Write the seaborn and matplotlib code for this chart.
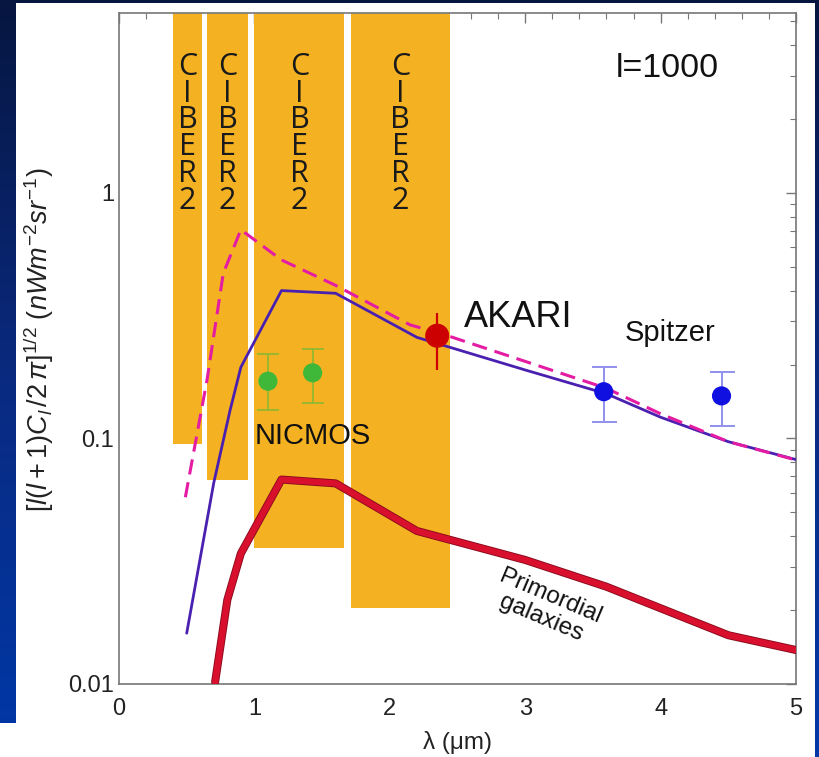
import numpy as np
import matplotlib
matplotlib.use("Agg")
import matplotlib.pyplot as plt
import seaborn as sns
from matplotlib.patches import Rectangle
from matplotlib.ticker import MultipleLocator, LogLocator, NullFormatter, FixedLocator, FixedFormatter

# CIBER2 bands: left edge, width, lower level (they run to the top of the frame)
band_left = [0.40, 0.65, 1.00, 1.71]
band_width = [0.21, 0.305, 0.665, 0.735]
band_low = [0.095, 0.068, 0.0357, 0.0203]

# total model (solid purple)
tot_x = [0.5, 0.7, 0.82, 0.9, 1.2, 1.6, 2.2, 3.0, 3.6, 4.0, 4.5, 5.0]
tot_y = [0.0161, 0.066, 0.13, 0.195, 0.40, 0.39, 0.258, 0.19, 0.152, 0.122, 0.097, 0.082]

# alternative model (dashed magenta)
alt_x = [0.49, 0.65, 0.77, 0.9, 1.2, 1.6, 2.15, 2.4, 3.6, 4.0, 4.5, 5.0]
alt_y = [0.0576, 0.173, 0.47, 0.708, 0.533, 0.42, 0.29, 0.265, 0.16, 0.126, 0.097, 0.0817]

# primordial galaxies (thick red)
prim_x = [0.71, 0.8, 0.9, 1.2, 1.6, 2.2, 3.0, 3.6, 4.5, 5.0]
prim_y = [0.0102, 0.022, 0.034, 0.068, 0.0656, 0.042, 0.032, 0.0249, 0.0158, 0.01375]

# measurements
nic_x = [1.10, 1.43]
nic_y = [0.171, 0.185]
nic_lo = [0.131, 0.139]
nic_hi = [0.221, 0.232]

akari_x = [2.35]
akari_y = [0.262]
akari_lo = [0.190]
akari_hi = [0.324]

spz_x = [3.58, 4.45]
spz_y = [0.155, 0.149]
spz_lo = [0.117, 0.112]
spz_hi = [0.196, 0.187]

sns.set_theme(style="white")
plt.rcParams['font.family'] = ['Liberation Sans', 'DejaVu Sans']
plt.rcParams['mathtext.fontset'] = 'custom'
plt.rcParams['mathtext.rm'] = 'Liberation Sans'
plt.rcParams['mathtext.it'] = 'Liberation Sans:italic'

fig = plt.figure(figsize=(8.19, 7.57), dpi=100)

# slide background: blue gradient with the white figure card on top
bg = fig.add_axes([0, 0, 1, 1], zorder=0)
grad = np.linspace(0, 1, 256).reshape(-1, 1)
cmap = matplotlib.colors.LinearSegmentedColormap.from_list("slide", ["#061640", "#0a2a80", "#0038a8"])
bg.imshow(grad, aspect='auto', cmap=cmap, extent=[0, 1, 0, 1], origin='upper')
bg.add_patch(Rectangle((16/819, 0), (815-16)/819, 1 - 3/757, color='white', lw=0))
bg.add_patch(Rectangle((0, 0), 815/819, (757-723)/757, color='white', lw=0))
bg.set_xlim(0, 1)
bg.set_ylim(0, 1)
bg.axis('off')

ax = fig.add_axes([119/819, 1 - 684/757, (796-119)/819, (684-13)/757], zorder=1)
ax.set_facecolor('white')
ax.set_yscale('log')
ymin, ymax = 0.01, 5.4
ax.set_xlim(0, 5)
ax.set_ylim(ymin, ymax)

orange = '#f4b223'
ax.bar(band_left, [ymax - b for b in band_low], bottom=band_low, width=band_width,
       align='edge', color=orange, lw=0, zorder=1)
for l, w in zip(band_left, band_width):
    ax.text(l + w/2, 3.75, "\n".join("CIBER2"), ha='center', va='top', fontsize=22,
            family='Open Sans', color='#1a1a1a', linespacing=0.86, zorder=2)

sns.lineplot(x=prim_x, y=prim_y, ax=ax, color='#8a0a1c', lw=5.8, zorder=3)
sns.lineplot(x=prim_x, y=prim_y, ax=ax, color='#d8102e', lw=4.5, zorder=3)
sns.lineplot(x=tot_x, y=tot_y, ax=ax, color='#4a20b0', lw=2.0, zorder=4)
sns.lineplot(x=alt_x, y=alt_y, ax=ax, color='#e41ca4', lw=2.2, zorder=5)
ax.lines[-1].set_linestyle((0, (5, 2.6)))

def errs(y, lo, hi):
    return [np.array(y) - np.array(lo), np.array(hi) - np.array(y)]

ax.errorbar(nic_x, nic_y, yerr=errs(nic_y, nic_lo, nic_hi), fmt='none', ecolor='#8ab832',
            elinewidth=1.2, capsize=8, capthick=1.2, zorder=6)
sns.scatterplot(x=nic_x, y=nic_y, ax=ax, color='#3fb83a', s=190, edgecolor='none', zorder=7)

ax.errorbar(akari_x, akari_y, yerr=errs(akari_y, akari_lo, akari_hi), fmt='none', ecolor='#d00000',
            elinewidth=1.6, capsize=0, zorder=6)
sns.scatterplot(x=akari_x, y=akari_y, ax=ax, color='#cc0000', s=300, edgecolor='none', zorder=7)

ax.errorbar(spz_x, spz_y, yerr=errs(spz_y, spz_lo, spz_hi), fmt='none', ecolor='#9090ee',
            elinewidth=1.4, capsize=9, capthick=1.4, zorder=6)
sns.scatterplot(x=spz_x, y=spz_y, ax=ax, color='#1010e0', s=190, edgecolor='none', zorder=7)

ax.text(4.05, 3.2, "l=1000", ha='center', va='center', fontsize=24.5, color='#111111', zorder=8)
ax.text(2.55, 0.31, "AKARI", ha='left', va='center', fontsize=26, color='#111111', zorder=8)
ax.text(4.07, 0.268, "Spitzer", ha='center', va='center', fontsize=21, color='#111111', zorder=8)
ax.text(1.43, 0.102, "NICMOS", ha='center', va='center', fontsize=21, color='#111111', zorder=8)
ax.text(3.15, 0.0205, "Primordial\ngalaxies", ha='center', va='center', fontsize=17.5,
        color='#111111', rotation=-23, rotation_mode='anchor', linespacing=1.05, zorder=8)

ax.xaxis.set_major_locator(MultipleLocator(1))
ax.xaxis.set_minor_locator(MultipleLocator(0.2))
ax.yaxis.set_major_locator(FixedLocator([0.01, 0.1, 1]))
ax.yaxis.set_major_formatter(FixedFormatter(["0.01", "0.1", "1"]))
ax.yaxis.set_minor_locator(LogLocator(base=10, subs=np.arange(2, 10)))
ax.yaxis.set_minor_formatter(NullFormatter())
ax.tick_params(which='both', direction='in', top=True, right=True, colors='#777777',
               labelcolor='#222222', labelsize=17)
ax.tick_params(which='major', length=7, width=1)
ax.tick_params(which='minor', length=4, width=0.8)
ax.tick_params(axis='x', pad=10)
for s in ax.spines.values():
    s.set_color('#777777')
    s.set_linewidth(1.2)

ax.set_xlabel("λ (μm)", fontsize=17.5, color='#222222', labelpad=8)
ax.set_ylabel(r'$[l(l+1)C_l\,/2\,\pi]^{1/2}\ (nWm^{-2}sr^{-1})$', fontsize=19.5,
              color='#222222')
ax.yaxis.set_label_coords(-0.093, 0.513)

fig.savefig('out.png', dpi=100)
